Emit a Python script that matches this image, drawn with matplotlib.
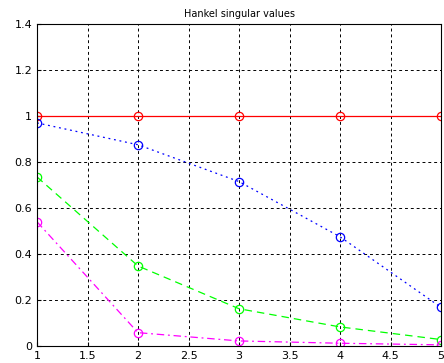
import matplotlib.pyplot as plt
import numpy as np

# data
order = [1, 2, 3, 4, 5]
hsv_red = [1.0, 1.0, 1.0, 1.0, 1.0]
hsv_blue = [0.97, 0.875, 0.715, 0.475, 0.168]
hsv_green = [0.735, 0.348, 0.162, 0.083, 0.028]
hsv_magenta = [0.54, 0.058, 0.022, 0.012, 0.005]

fig = plt.figure(figsize=(4.44, 3.63), dpi=100)
ax = fig.add_axes([37 / 444, 17 / 363, 404 / 444, 322 / 363])

mk = dict(marker='o', markersize=6, markerfacecolor='none', markeredgewidth=0.9)
ax.plot(order, hsv_red, color='r', linestyle='-', linewidth=0.9, **mk)
ax.plot(order, hsv_blue, color='b', linestyle=(0, (1.5, 3)), linewidth=0.9, **mk)
ax.plot(order, hsv_green, color='#00ff00', linestyle=(0, (6, 4)), linewidth=0.9, **mk)
ax.plot(order, hsv_magenta, color='#ff00ff', linestyle=(0, (6, 3, 1.5, 3)), linewidth=0.9, **mk)

ax.set_xlim(1, 5)
ax.set_ylim(0, 1.4)
ax.set_xticks([1, 1.5, 2, 2.5, 3, 3.5, 4, 4.5, 5])
ax.set_xticklabels(['1', '1.5', '2', '2.5', '3', '3.5', '4', '4.5', '5'])
ax.set_yticks([0, 0.2, 0.4, 0.6, 0.8, 1, 1.2, 1.4])
ax.set_yticklabels(['0', '0.2', '0.4', '0.6', '0.8', '1', '1.2', '1.4'])
ax.tick_params(labelsize=8, direction='in', length=3)
ax.grid(True, color='k', linestyle=(0, (3, 3)), linewidth=0.7)
ax.set_title('Hankel singular values', fontsize=7, pad=5)

plt.savefig('out.png', dpi=100)
